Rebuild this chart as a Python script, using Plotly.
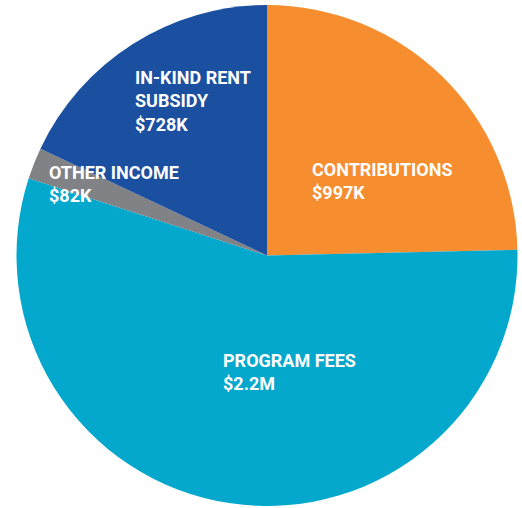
import plotly.graph_objects as go

categories = ["CONTRIBUTIONS", "PROGRAM FEES", "OTHER INCOME", "IN-KIND RENT SUBSIDY"]
values = [997, 2240, 82, 728]
value_labels = ["$997K", "$2.2M", "$82K", "$728K"]
label_lines = ["CONTRIBUTIONS", "PROGRAM FEES", "OTHER INCOME", "IN-KIND RENT<br>SUBSIDY"]
colors = ["#F68D2E", "#04A8CD", "#808285", "#1B4FA0"]

W, H = 522, 508

fig = go.Figure(go.Pie(
    labels=categories,
    values=values,
    sort=False,
    direction="clockwise",
    rotation=0,
    marker=dict(colors=colors, line=dict(width=0)),
    textinfo="none",
    showlegend=False,
    domain=dict(x=[16 / W, 518 / W], y=[1 - 506 / H, 1 - 5 / H]),
))

# label anchor positions (left edge x, vertical centre y) in pixels
label_pos = [(310, 181), (221, 372), (47, 184), (133, 101)]
for lines, val, (px, py) in zip(label_lines, value_labels, label_pos):
    fig.add_annotation(
        x=px / W, y=1 - py / H, xref="paper", yref="paper",
        xanchor="left", yanchor="middle", align="left",
        text=f"<b>{lines}<br>{val}</b>", showarrow=False,
        font=dict(family="Roboto", size=18, color="white"),
    )

fig.update_layout(
    width=W, height=H,
    margin=dict(l=0, r=0, t=0, b=0),
    paper_bgcolor="white", plot_bgcolor="white",
)

fig.write_html("out.html", config={"displayModeBar": False},
               post_script="document.body.style.margin='0';")
